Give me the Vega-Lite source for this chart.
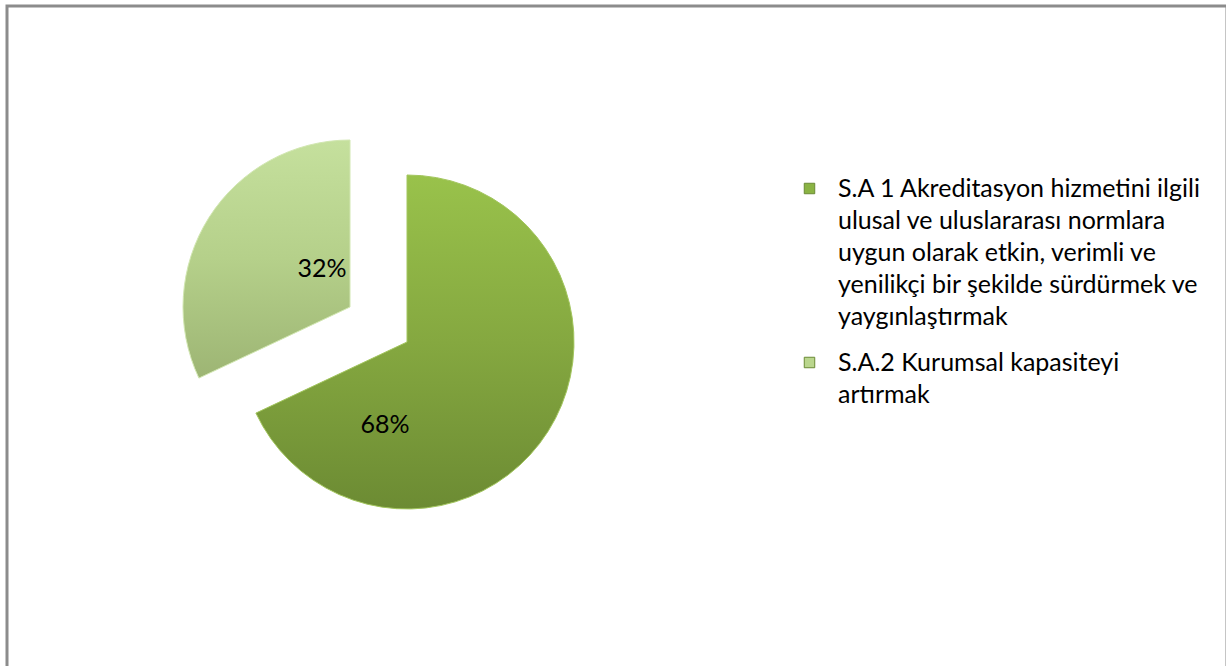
{
  "$schema": "https://vega.github.io/schema/vega-lite/v6.json",
  "width": 1220,
  "height": 680,
  "padding": {"left": 5, "top": 4, "right": 0, "bottom": 0},
  "background": "#ffffff",
  "config": {
    "view": {"stroke": null},
    "font": "Lato",
    "style": {"guide-label": {"lineHeight": 32}}
  },
  "data": {
    "values": [
      {"goal": "S.A 1 Akreditasyon hizmetini ilgili ulusal ve uluslararası normlara uygun olarak etkin, verimli ve yenilikçi bir şekilde sürdürmek ve yaygınlaştırmak", "share": 0.68},
      {"goal": "S.A.2 Kurumsal kapasiteyi artırmak", "share": 0.32}
    ]
  },
  "layer": [
    {
      "data": {"values": [{"frame": "border"}]},
      "mark": {"type": "rect", "fill": null, "stroke": "#8c8c8c", "strokeWidth": 3},
      "encoding": {
        "x": {"value": 0},
        "x2": {"value": "width"},
        "y": {"value": 0},
        "y2": {"value": "height"}
      }
    },
    {
      "mark": {
        "type": "arc", "x": 400, "y": 336, "outerRadius": 167,
        "stroke": "#a3c65e", "strokeWidth": 1,
        "fill": {"gradient": "linear", "x1": 0, "y1": 0, "x2": 0, "y2": 1,
          "stops": [{"offset": 0, "color": "#99c24b"}, {"offset": 0.5, "color": "#85a840"}, {"offset": 1, "color": "#6c8b33"}]}
      },
      "encoding": {
        "theta": {"field": "share", "type": "quantitative", "stack": true},
        "detail": {"field": "goal", "type": "nominal"},
        "opacity": {"condition": {"test": "datum.share > 0.5", "value": 1}, "value": 0}
      }
    },
    {
      "mark": {
        "type": "arc", "x": 343, "y": 301, "outerRadius": 167,
        "stroke": "#d2e7b2", "strokeWidth": 1,
        "fill": {"gradient": "linear", "x1": 0, "y1": 0, "x2": 0, "y2": 1,
          "stops": [{"offset": 0, "color": "#c5e09d"}, {"offset": 0.5, "color": "#b5d08a"}, {"offset": 1, "color": "#9db574"}]}
      },
      "encoding": {
        "theta": {"field": "share", "type": "quantitative", "stack": true},
        "detail": {"field": "goal", "type": "nominal"},
        "opacity": {"condition": {"test": "datum.share < 0.5", "value": 1}, "value": 0}
      }
    },
    {
      "mark": {"type": "arc", "x": 400, "y": 336, "outerRadius": 167, "opacity": 0},
      "encoding": {
        "theta": {"field": "share", "type": "quantitative", "stack": true},
        "color": {
          "field": "goal", "type": "nominal",
          "scale": {"range": ["#8ab343", "#bad68d"]},
          "legend": {
            "title": null,
            "orient": "none",
            "legendX": 790,
            "legendY": 170,
            "padding": 0,
            "symbolType": "square",
            "symbolSize": 110,
            "symbolOpacity": 1,
            "symbolStrokeColor": "#6a8a35",
            "symbolStrokeWidth": 1,
            "labelFont": "Lato",
            "labelFontSize": 25,
            "labelColor": "#000000",
            "labelLimit": 450,
            "labelOffset": 16,
            "rowPadding": 20,
            "labelExpr": "datum.label == 'S.A.2 Kurumsal kapasiteyi artırmak' ? ['S.A.2 Kurumsal kapasiteyi', 'artırmak'] : ['S.A 1 Akreditasyon hizmetini ilgili', 'ulusal ve uluslararası normlara', 'uygun olarak etkin, verimli ve', 'yenilikçi bir şekilde sürdürmek ve', 'yaygınlaştırmak']"
          }
        }
      }
    },
    {
      "mark": {"type": "text", "x": 400, "y": 336, "dx": -22, "dy": 83, "fontSize": 25, "font": "Lato", "color": "#000000"},
      "encoding": {
        "text": {"field": "share", "type": "quantitative", "format": ".0%"},
        "opacity": {"condition": {"test": "datum.share > 0.5", "value": 1}, "value": 0}
      }
    },
    {
      "mark": {"type": "text", "x": 343, "y": 301, "dx": -28, "dy": -38, "fontSize": 25, "font": "Lato", "color": "#000000"},
      "encoding": {
        "text": {"field": "share", "type": "quantitative", "format": ".0%"},
        "opacity": {"condition": {"test": "datum.share < 0.5", "value": 1}, "value": 0}
      }
    }
  ]
}
